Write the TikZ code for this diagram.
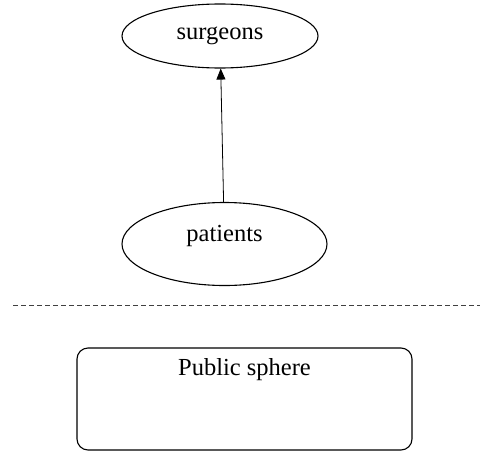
\documentclass[tikz,border=0pt]{standalone}
\usepackage{fontspec}
\setmainfont{Liberation Serif}
\usetikzlibrary{shapes.geometric, arrows.meta}

\begin{document}
\begin{tikzpicture}[x=1pt, y=-1pt,
        oval/.style={draw, ellipse, line width=1.1pt, inner sep=0pt, font=\fontsize{24.5}{29}\selectfont},
        sphere/.style={draw, rounded corners=11pt, line width=1.1pt, inner sep=0pt}]
            \useasboundingbox (0,0) rectangle (484,455);
            \node[oval, minimum width=196pt, minimum height=64pt] (surgeons) at (220,36) {surgeons};
            \node[oval, minimum width=205pt, minimum height=83pt,
                  label={[font=\fontsize{24.5}{29}\selectfont, yshift=8pt]center:patients}] (patients) at (224.5,244) {};
            \draw[line width=0.8pt, -{Triangle[length=11pt, width=9pt]}] (patients) -- (surgeons);
            \draw[dash pattern=on 5pt off 3pt, line width=1pt, black!75] (13,305) -- (480,305); % boundary
            \node[sphere, minimum width=335pt, minimum height=102pt,
                  label={[font=\fontsize{24.5}{29}\selectfont, yshift=29pt]center:Public sphere}] (public) at (244.5,399) {};
        \end{tikzpicture}
\end{document}
